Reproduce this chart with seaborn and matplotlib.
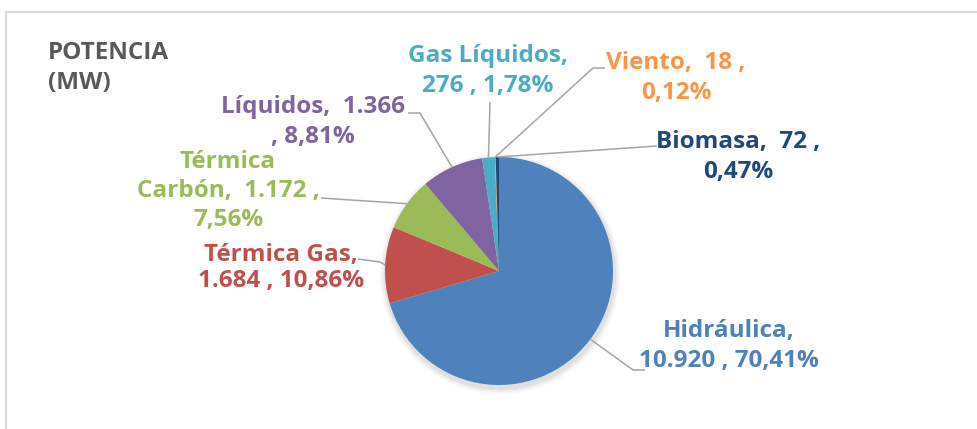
import numpy as np
import matplotlib
matplotlib.use("Agg")
import matplotlib.pyplot as plt
import seaborn as sns

# Data (MW) and shares as printed on the chart
categories = ['Hidráulica', 'Térmica Gas', 'Térmica Carbón', 'Líquidos',
              'Gas Líquidos', 'Viento', 'Biomasa']
potencia = [10920, 1684, 1172, 1366, 276, 18, 72]
porcentaje = [70.41, 10.86, 7.56, 8.81, 1.78, 0.12, 0.47]
colors = ['#4F81BD', '#C0504D', '#9BBB59', '#8064A2', '#4BACC6', '#F79646', '#1F497D']

sns.set_theme(style='white')
plt.rcParams['font.family'] = ['Open Sans', 'DejaVu Sans']

W, H = 977, 429
fig = plt.figure(figsize=(W / 100, H / 100), dpi=100)
ax = fig.add_axes([0, 0, 1, 1])


def Y(y):
    # pixel row (from top) -> data y
    return H - y


cx, cy, r = 499, Y(271), 114

# soft shadow
for k, a in [(6, 0.03), (4, 0.04), (2, 0.05)]:
    ax.add_patch(plt.Circle((cx + 1, cy - 3), r + k, color='black', alpha=a, lw=0))

wedges, _ = ax.pie(potencia, colors=sns.color_palette(colors), startangle=90,
                   counterclock=False, center=(cx, cy), radius=r,
                   wedgeprops=dict(linewidth=0), frame=True)
ax.set_xlim(0, W)
ax.set_ylim(0, H)
ax.set_aspect('equal')
ax.axis('off')

# chart frame (only top and left edges visible)
ax.plot([5.5, W], [Y(11.5), Y(11.5)], color='#D9D9D9', lw=1.5)
ax.plot([5.5, 5.5], [Y(11.5), 0], color='#D9D9D9', lw=1.5)


def fmt_int(v):
    return f'{v:,}'.replace(',', '.')


def fmt_pct(p):
    return f'{p:.2f}%'.replace('.', ',')


# label layout: template, text centre, elbow points, line spacing
layout = {
    'Hidráulica': ('{n},\n{v} , {p}', (729, 346), [(633, 370), (645, 370)], 1.28),
    'Térmica Gas': ('{n},\n{v} , {p}', (281, 268), [(380, 262), (358, 259)], 1.13),
    'Térmica Carbón': ('Térmica\nCarbón,  {v} ,\n{p}', (228, 191), [(321, 198)], 1.28),
    'Líquidos': ('{n},  {v}\n, {p}', (313, 122), [(420, 113), (408, 113)], 1.28),
    'Gas Líquidos': ('{n},\n{v} , {p}', (488, 71), [(490, 102)], 1.28),
    'Viento': ('{n},  {v} ,\n{p}', (676, 78), [(593, 68), (605, 68)], 1.28),
    'Biomasa': ('{n},  {v} ,\n{p}', (738, 157), [(657, 146)], 1.28),
}

for w, name, val, pct, col in zip(wedges, categories, potencia, porcentaje, colors):
    tmpl, (tx, ty), elbows, ls = layout[name]
    mid = np.deg2rad((w.theta1 + w.theta2) / 2)
    sx, sy = cx + r * np.cos(mid), cy + r * np.sin(mid)
    xs = [sx] + [e[0] for e in elbows]
    ys = [sy] + [Y(e[1]) for e in elbows]
    ax.plot(xs, ys, color='#A6A6A6', lw=1.1, solid_capstyle='butt')
    ax.text(tx, Y(ty), tmpl.format(n=name, v=fmt_int(val), p=fmt_pct(pct)),
            color=col, fontsize=17.5, fontweight='bold', ha='center', va='center',
            multialignment='center', linespacing=ls)

ax.text(48, Y(68), 'POTENCIA\n(MW)', color='#595959', fontsize=17.5,
        fontweight='bold', ha='left', va='center', linespacing=1.3)

fig.savefig('out.png', dpi=100)
